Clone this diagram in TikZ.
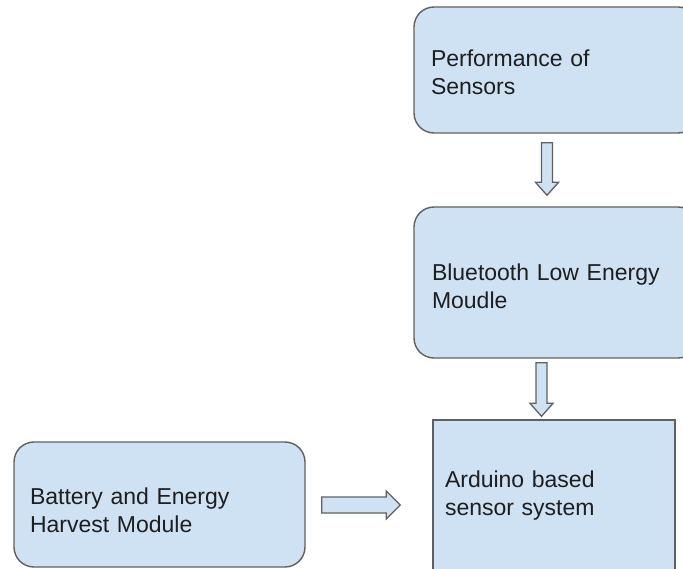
\documentclass[tikz,border=0pt]{standalone}
\usepackage{fontspec}
\setmainfont{Liberation Sans}
\definecolor{boxblue}{HTML}{CFE2F3}
\definecolor{edgegray}{HTML}{606060}
\definecolor{textgray}{HTML}{1E1E1E}

\begin{document}
\begin{tikzpicture}[x=1pt, y=-1pt,
  block/.style={draw=edgegray, fill=boxblue, line width=1.4pt, rounded corners=20pt,
    align=left, text=textgray, font=\fontsize{23}{28}\selectfont, inner xsep=17pt},
  fatarrow/.style={draw=edgegray, fill=boxblue, line width=1.3pt, line join=miter},
  fat down/.style={to path={([xshift=-5.5pt]\tikztostart)
    -- ([xshift=-5.5pt,yshift=13pt]\tikztotarget) -- ([xshift=-11.5pt,yshift=13pt]\tikztotarget)
    -- (\tikztotarget)
    -- ([xshift=11.5pt,yshift=13pt]\tikztotarget) -- ([xshift=5.5pt,yshift=13pt]\tikztotarget)
    -- ([xshift=5.5pt]\tikztostart) -- cycle}},
  fat right/.style={to path={([yshift=8pt]\tikztostart)
    -- ([xshift=-14pt,yshift=8pt]\tikztotarget) -- ([xshift=-14pt,yshift=14pt]\tikztotarget)
    -- (\tikztotarget)
    -- ([xshift=-14pt,yshift=-14pt]\tikztotarget) -- ([xshift=-14pt,yshift=-8pt]\tikztotarget)
    -- ([yshift=-8pt]\tikztostart) -- cycle}}]
\useasboundingbox (0,0) rectangle (683,569);

% blocks
\node[block, minimum width=284pt, minimum height=126pt, text width=250pt, text height=21pt] (perf) at (556,70) {Performance of\\Sensors};
\node[block, minimum width=284pt, minimum height=151pt, text width=248pt, inner xsep=18pt, text height=25pt] (ble) at (556,282.5) {Bluetooth Low Energy\\Moudle};
\node[block, sharp corners, minimum width=242pt, minimum height=152pt, text width=218pt, inner xsep=12pt] (ard) at (554,496) {Arduino based\\sensor system};
\node[block, minimum width=291pt, minimum height=125pt, text width=259pt, inner xsep=16pt, text height=29pt] (batt) at (159.5,504.5) {Battery and Energy\\Harvest Module};

% block arrows
\draw[fatarrow, fat down] ([xshift=-9pt,yshift=-9pt]perf.south) to ([xshift=-9pt,yshift=11pt]ble.north);
\draw[fatarrow, fat down] ([xshift=-14.5pt,yshift=-4pt]ble.south) to ([xshift=-12.5pt,yshift=3pt]ard.north);
\draw[fatarrow, fat right] ([xshift=16pt,yshift=-0.5pt]batt.east) to ([xshift=-32pt,yshift=-9pt]ard.west);
\end{tikzpicture}
\end{document}
